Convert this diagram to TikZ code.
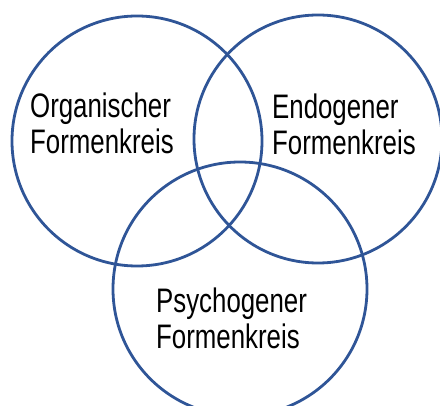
\documentclass[tikz,border=0pt]{standalone}
\usepackage{fontspec}
\setmainfont{Liberation Sans}
\usepackage{tikz}
\usepackage{xcolor}
\definecolor{ringblue}{RGB}{47,85,151}

\begin{document}
\begin{tikzpicture}[x=1pt,y=-1pt,
  kreis/.style={draw=ringblue,line width=2.8pt},
  kreistext/.style={font=\fontsize{34}{36}\selectfont,align=left,xscale=0.76,inner sep=0pt,anchor=base west}]
\useasboundingbox (0,0) rectangle (440,406);
\draw[kreis] (137,141) circle [radius=125];
\draw[kreis] (318,139) circle [radius=124];
\draw[kreis] (240,289) circle [radius=127];
\node[kreistext] (organisch) at (30,154) {Organischer\\Formenkreis};
\node[kreistext] (endogen) at (272,155) {Endogener\\Formenkreis};
\node[kreistext] (psychogen) at (156,349) {Psychogener\\Formenkreis};
\end{tikzpicture}
\end{document}
